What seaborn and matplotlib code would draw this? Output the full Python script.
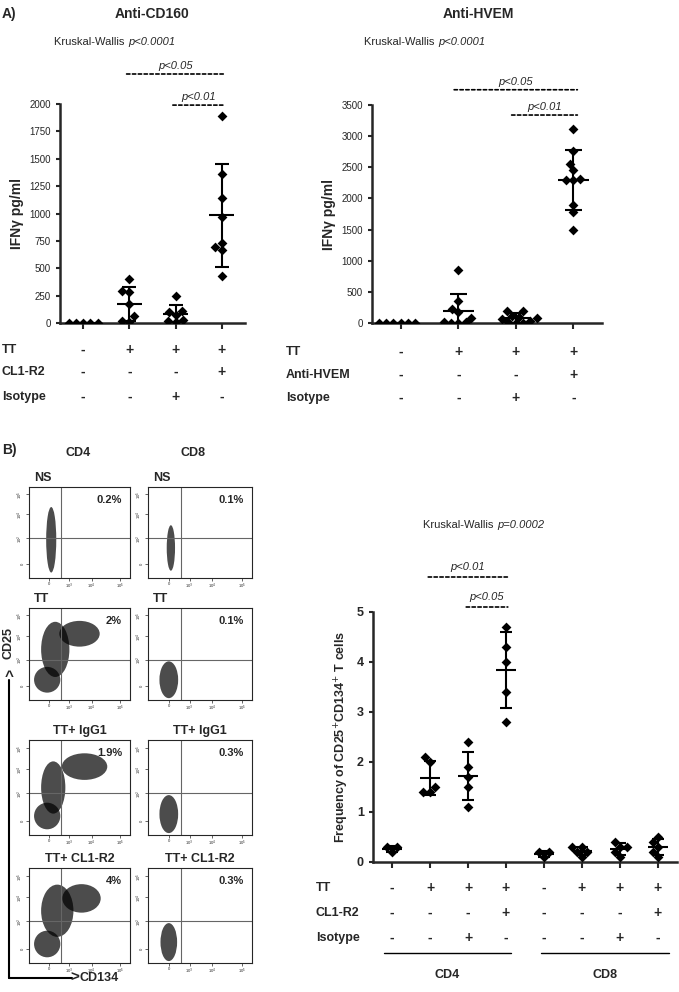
import matplotlib
matplotlib.use('Agg')
import matplotlib.pyplot as plt
import numpy as np
import pandas as pd
import seaborn as sns
from matplotlib.patches import Ellipse

sns.set_theme(style='ticks')
plt.rcParams['font.family'] = ['Liberation Sans', 'DejaVu Sans']

# ---- data ----
cd160_groups = ['NS', 'TT', 'TT+Iso', 'TT+CL1-R2']
cd160_values = [
    [0, 0, 0, 0, 0],
    [400, 290, 285, 170, 60, 15, 10],
    [250, 110, 100, 75, 25, 15, 10],
    [1890, 1360, 1140, 970, 730, 690, 665, 425],
]
hvem_groups = ['NS', 'TT', 'TT+Iso', 'TT+HVEM']
hvem_values = [
    [0, 0, 0, 0, 0, 0],
    [850, 350, 230, 170, 80, 20, 10, 0, 0],
    [200, 190, 120, 100, 80, 60, 30, 10, 0, 0],
    [3110, 2760, 2560, 2460, 2310, 2300, 2290, 1900, 1780, 1500],
]
freq_groups = ['CD4 NS', 'CD4 TT', 'CD4 Iso', 'CD4 CL1', 'CD8 NS', 'CD8 TT', 'CD8 Iso', 'CD8 CL1']
freq_values = [
    [0.3, 0.3, 0.2],
    [2.1, 2.0, 1.5, 1.4, 1.4],
    [2.4, 1.9, 1.7, 1.5, 1.1],
    [4.7, 4.3, 4.0, 3.4, 2.8],
    [0.2, 0.2, 0.1],
    [0.3, 0.3, 0.2, 0.2, 0.1],
    [0.4, 0.3, 0.3, 0.2, 0.1],
    [0.5, 0.4, 0.3, 0.2, 0.1],
]
tt_row = ['-', '+', '+', '+']
cl1_row = ['-', '-', '-', '+']
iso_row = ['-', '-', '+', '-']
flow_titles = [['NS', 'NS'], ['TT', 'TT'], ['TT+ IgG1', 'TT+ IgG1'], ['TT+ CL1-R2', 'TT+ CL1-R2']]
flow_pcts = [['0.2%', '0.1%'], ['2%', '0.1%'], ['1.9%', '0.3%'], ['4%', '0.3%']]
# rough cell-cloud shapes per panel: (center x, center y, width, height) in axes units
flow_clouds = [
    [[(0.22, 0.42, 0.10, 0.72)], [(0.22, 0.33, 0.08, 0.50)]],
    [[(0.18, 0.22, 0.26, 0.28), (0.26, 0.55, 0.28, 0.60), (0.50, 0.72, 0.40, 0.28)], [(0.20, 0.22, 0.18, 0.40)]],
    [[(0.18, 0.20, 0.26, 0.28), (0.24, 0.50, 0.24, 0.55), (0.55, 0.72, 0.45, 0.28)], [(0.20, 0.22, 0.18, 0.40)]],
    [[(0.18, 0.20, 0.26, 0.28), (0.28, 0.55, 0.32, 0.55), (0.52, 0.68, 0.38, 0.30)], [(0.20, 0.22, 0.16, 0.40)]],
]

W, H = 679, 992
fig = plt.figure(figsize=(W / 100, H / 100), dpi=100)


def px_axes(x0, y0, x1, y1):
    return fig.add_axes([x0 / W, 1 - y1 / H, (x1 - x0) / W, (y1 - y0) / H])


def dot_plot(ax, groups, values, ylim, yticks, size):
    df = pd.DataFrame([(g, v) for g, vs in zip(groups, values) for v in vs], columns=['group', 'value'])
    sns.swarmplot(data=df, x='group', y='value', order=groups, ax=ax, color='black',
                  marker='D', size=size, linewidth=0)
    for i, vs in enumerate(values):
        m, s = np.mean(vs), np.std(vs, ddof=1)
        ax.hlines(m, i - 0.27, i + 0.27, color='black', lw=1.5)
        ax.vlines(i, m - s, m + s, color='black', lw=1.5)
        ax.hlines([m - s, m + s], i - 0.15, i + 0.15, color='black', lw=1.5)
    ax.set_ylim(*ylim)
    ax.set_yticks(yticks)
    ax.set_yticklabels([str(t) for t in yticks], fontsize=7)
    ax.set_xlabel('')
    ax.set_xticklabels([])
    ax.tick_params(axis='x', length=4, width=1.5)
    ax.tick_params(axis='y', length=3, width=1.5)
    for sp in ['top', 'right']:
        ax.spines[sp].set_visible(False)
    for sp in ['left', 'bottom']:
        ax.spines[sp].set_linewidth(1.8)


def put_rows(ax, rows, ys):
    for row, y in zip(rows, ys):
        for i, s in enumerate(row):
            xd = ax.transData.transform((i, 0))[0]
            fig.text(xd / W, 1 - y / H, s, fontsize=10, fontweight='bold', ha='center', va='center')


def sig_line(ax, x0, x1, y, label, ytext):
    ax.annotate('', xy=(x1 + 0.12, y), xytext=(x0 - 0.12, y), xycoords=('data', 'axes fraction'),
                arrowprops=dict(arrowstyle='-', ls=(0, (2, 1.5)), lw=1.2, color='black'))
    ax.text((x0 + x1) / 2, ytext, label, transform=ax.get_xaxis_transform(), ha='center',
            fontsize=8, style='italic', clip_on=False)


def kruskal(x, y, pval):
    fig.text(x / W, 1 - y / H, 'Kruskal-Wallis ', fontsize=8, ha='right', va='center')
    fig.text(x / W, 1 - y / H, pval, fontsize=8, style='italic', ha='left', va='center')


# ---- Panel A left ----
axL = px_axes(60, 104, 245, 323)
axL.set_xlim(-0.53, 3.4)
dot_plot(axL, cd160_groups, cd160_values, (0, 2000), [0, 250, 500, 750, 1000, 1250, 1500, 1750, 2000], 5)
axL.set_ylabel('IFNγ pg/ml', fontsize=10, fontweight='bold')
sig_line(axL, 1, 3, 1.137, 'p<0.05', 1.16)
sig_line(axL, 2, 3, 0.995, 'p<0.01', 1.02)
kruskal(128, 42, 'p<0.0001')
fig.text(152 / W, 1 - 14 / H, 'Anti-CD160', fontsize=10, fontweight='bold', ha='center', va='center')

# ---- Panel A right ----
axR = px_axes(372, 105, 602, 323)
axR.set_xlim(-0.62, 3.5)
dot_plot(axR, hvem_groups, hvem_values, (0, 3500), [0, 500, 1000, 1500, 2000, 2500, 3000, 3500], 5)
axR.set_ylabel('IFNγ pg/ml', fontsize=10, fontweight='bold')
sig_line(axR, 1, 3, 1.07, 'p<0.05', 1.09)
sig_line(axR, 2, 3, 0.954, 'p<0.01', 0.975)
kruskal(438, 42, 'p<0.0001')
fig.text(478 / W, 1 - 14 / H, 'Anti-HVEM', fontsize=10, fontweight='bold', ha='center', va='center')

# ---- Panel B right ----
axB = px_axes(373, 612, 677, 862)
axB.set_xlim(-0.47, 7.5)
dot_plot(axB, freq_groups, freq_values, (0, 5), [0, 1, 2, 3, 4, 5], 5)
axB.set_yticklabels([str(t) for t in range(6)], fontsize=9, fontweight='bold')
axB.set_ylabel('Frequency of CD25$^{+}$CD134$^{+}$ T cells', fontsize=9, fontweight='bold')
sig_line(axB, 1, 3, 1.14, 'p<0.01', 1.17)
sig_line(axB, 2, 3, 1.02, 'p<0.05', 1.05)
kruskal(497, 525, 'p=0.0002')

fig.canvas.draw()
put_rows(axL, [tt_row, cl1_row, iso_row], [350, 372, 397])
put_rows(axR, [tt_row, cl1_row, iso_row], [352, 375, 398])
put_rows(axB, [tt_row * 2, cl1_row * 2, iso_row * 2], [888, 913, 938])
for lab, y in zip(['TT', 'CL1-R2', 'Isotype'], [350, 372, 397]):
    fig.text(2 / W, 1 - y / H, lab, fontsize=9, fontweight='bold', va='center')
for lab, y in zip(['TT', 'Anti-HVEM', 'Isotype'], [352, 375, 398]):
    fig.text(286 / W, 1 - y / H, lab, fontsize=9, fontweight='bold', va='center')
for lab, y in zip(['TT', 'CL1-R2', 'Isotype'], [888, 913, 938]):
    fig.text(316 / W, 1 - y / H, lab, fontsize=9, fontweight='bold', va='center')
for x0, x1, lab in [(384, 511, 'CD4'), (541, 669, 'CD8')]:
    fig.add_artist(plt.Line2D([x0 / W, x1 / W], [1 - 953 / H] * 2, color='black', lw=1))
    fig.text((x0 + x1) / 2 / W, 1 - 975 / H, lab, fontsize=9, fontweight='bold', ha='center', va='center')

fig.text(2 / W, 1 - 14 / H, 'A)', fontsize=10, fontweight='bold', va='center')
fig.text(2 / W, 1 - 450 / H, 'B)', fontsize=10, fontweight='bold', va='center')
fig.text(78 / W, 1 - 453 / H, 'CD4', fontsize=9, fontweight='bold', va='center', ha='center')
fig.text(193 / W, 1 - 453 / H, 'CD8', fontsize=9, fontweight='bold', va='center', ha='center')

# ---- flow cytometry panels ----
col_x = [(29, 130), (148, 252)]
row_y = [(487, 578), (608, 700), (740, 835), (868, 963)]
for r, (y0, y1) in enumerate(row_y):
    for c, (x0, x1) in enumerate(col_x):
        ax = px_axes(x0, y0, x1, y1)
        ax.set_xlim(0, 1)
        ax.set_ylim(0, 1)
        for cx, cy, w, h in flow_clouds[r][c]:
            ax.add_patch(Ellipse((cx, cy), w, h, color='black', alpha=0.7, lw=0))
        ax.axvline(0.32, color='0.4', lw=0.8)
        ax.axhline(0.44, color='0.4', lw=0.8)
        ax.set_xticks([0.2, 0.4, 0.62, 0.9])
        ax.set_xticklabels(['0', '10$^3$', '10$^4$', '10$^5$'], fontsize=3)
        ax.set_yticks([0.15, 0.44, 0.7, 0.92])
        ax.set_yticklabels(['0', '10$^2$', '10$^4$', '10$^5$'], fontsize=3, rotation=90)
        ax.tick_params(length=2, width=0.5, pad=1)
        for sp in ax.spines.values():
            sp.set_linewidth(0.8)
        ax.text(0.92, 0.86, flow_pcts[r][c], transform=ax.transAxes, ha='right', va='center',
                fontsize=8, fontweight='bold')
        ax.text(0.05 if r < 2 else 0.5, 1.03, flow_titles[r][c], transform=ax.transAxes,
                ha='left' if r < 2 else 'center', va='bottom', fontsize=9, fontweight='bold')

# CD25 / CD134 axis arrows
fig.add_artist(plt.Line2D([9 / W, 9 / W], [1 - 978 / H, 1 - 680 / H], color='black', lw=1.5))
fig.add_artist(plt.Line2D([9 / W, 72 / W], [1 - 978 / H, 1 - 978 / H], color='black', lw=1.5))
fig.text(9 / W, 1 - 684 / H, '^', fontsize=11, fontweight='bold', ha='center', va='bottom')
fig.text(9 / W, 1 - 643 / H, 'CD25', fontsize=9, fontweight='bold', rotation=90, ha='center', va='center')
fig.text(70 / W, 1 - 978 / H, '>', fontsize=11, fontweight='bold', va='center')
fig.text(80 / W, 1 - 978 / H, 'CD134', fontsize=9, fontweight='bold', va='center')

fig.savefig('out.png', dpi=100)
